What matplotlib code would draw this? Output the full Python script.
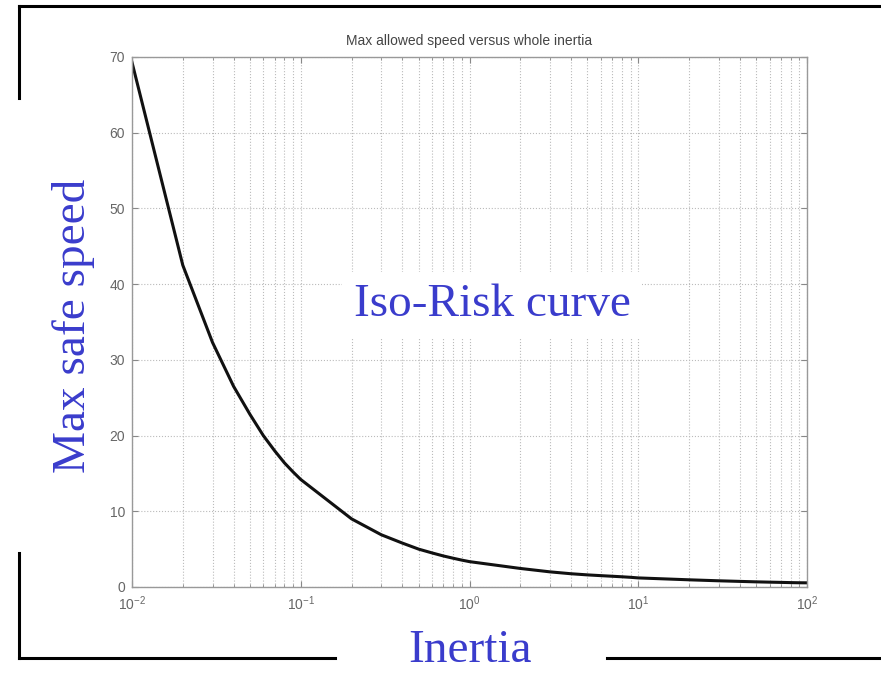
import matplotlib
matplotlib.use("Agg")
import matplotlib.pyplot as plt
from matplotlib.lines import Line2D
from matplotlib.ticker import LogLocator, NullFormatter

# Inertia values (1..9 per decade) and the corresponding maximum safe speed
inertia = [0.01, 0.02, 0.03, 0.04, 0.05, 0.06, 0.07, 0.08, 0.09,
           0.1, 0.2, 0.3, 0.4, 0.5, 0.6, 0.7, 0.8, 0.9,
           1, 2, 3, 4, 5, 6, 7, 8, 9,
           10, 20, 30, 40, 50, 60, 70, 80, 90, 100]
max_speed = [69.3, 42.5, 32.3, 26.5, 22.8, 20.0, 18.0, 16.4, 15.2,
             14.2, 9.0, 6.9, 5.8, 5.0, 4.5, 4.1, 3.8, 3.55,
             3.35, 2.45, 2.0, 1.75, 1.6, 1.5, 1.42, 1.35, 1.28,
             1.2, 0.95, 0.82, 0.74, 0.68, 0.64, 0.61, 0.58, 0.56, 0.55]

y_ticks = [0, 10, 20, 30, 40, 50, 60, 70]
x_ticks = [1e-2, 1e-1, 1e0, 1e1, 1e2]
x_tick_labels = [r"$10^{-2}$", r"$10^{-1}$", r"$10^{0}$", r"$10^{1}$", r"$10^{2}$"]

W, H = 881, 673
fig = plt.figure(figsize=(W / 100, H / 100), dpi=100)
plt.rcParams["mathtext.fontset"] = "custom"
plt.rcParams["mathtext.rm"] = "Liberation Sans"
plt.rcParams["mathtext.it"] = "Liberation Sans"

left, right, top, bottom = 132, 807, 57, 587
ax = fig.add_axes([left / W, 1 - bottom / H, (right - left) / W, (bottom - top) / H])

ax.plot(inertia, max_speed, color="#111111", linewidth=2.2)
ax.set_xscale("log")
ax.set_xlim(1e-2, 1e2)
ax.set_ylim(0, 70)

ax.set_xticks(x_ticks)
ax.set_xticklabels(x_tick_labels)
ax.xaxis.set_minor_locator(LogLocator(base=10, subs=range(2, 10)))
ax.xaxis.set_minor_formatter(NullFormatter())
ax.set_yticks(y_ticks)

grid_col = "#bbbbbb"
ax.grid(True, which="major", axis="both", color=grid_col, linestyle=":", linewidth=0.8)
ax.grid(True, which="minor", axis="x", color=grid_col, linestyle=":", linewidth=0.8)

for s in ax.spines.values():
    s.set_color("#999999")
    s.set_linewidth(1.0)
ax.tick_params(which="both", direction="in", top=True, right=True,
               color="#888888", labelcolor="#666666", labelsize=10)
ax.tick_params(which="major", length=4, pad=5)
ax.tick_params(which="minor", length=2)
for lbl in ax.get_xticklabels() + ax.get_yticklabels():
    lbl.set_family("Liberation Sans")

ax.set_title("Max allowed speed versus whole inertia", fontsize=10,
             family="Liberation Sans", color="#444444", pad=9)

blue = "#3a3ccc"
serif = ["Liberation Serif", "DejaVu Serif"]
fig.text(470 / W, 1 - 651 / H, "Inertia", family=serif, fontsize=34, color=blue,
         ha="center", va="center")
fig.text(74 / W, 1 - 326 / H, "Max safe speed", family=serif, fontsize=34, color=blue,
         ha="center", va="center", rotation=90)
fig.text(492 / W, 1 - 305 / H, "Iso-Risk curve", family=serif, fontsize=34, color=blue,
         ha="center", va="center",
         bbox=dict(facecolor="white", edgecolor="none", pad=8))

# Slide frame lines
def frame_line(x0, y0, x1, y1):
    fig.add_artist(Line2D([x0 / W, x1 / W], [1 - y0 / H, 1 - y1 / H],
                          color="black", linewidth=2.2, transform=fig.transFigure))

frame_line(19, 6, 881, 6)
frame_line(19, 6, 19, 98)
frame_line(19, 553, 19, 658)
frame_line(19, 658, 335, 658)
frame_line(607, 658, 881, 658)

fig.savefig("out.png", dpi=100)
